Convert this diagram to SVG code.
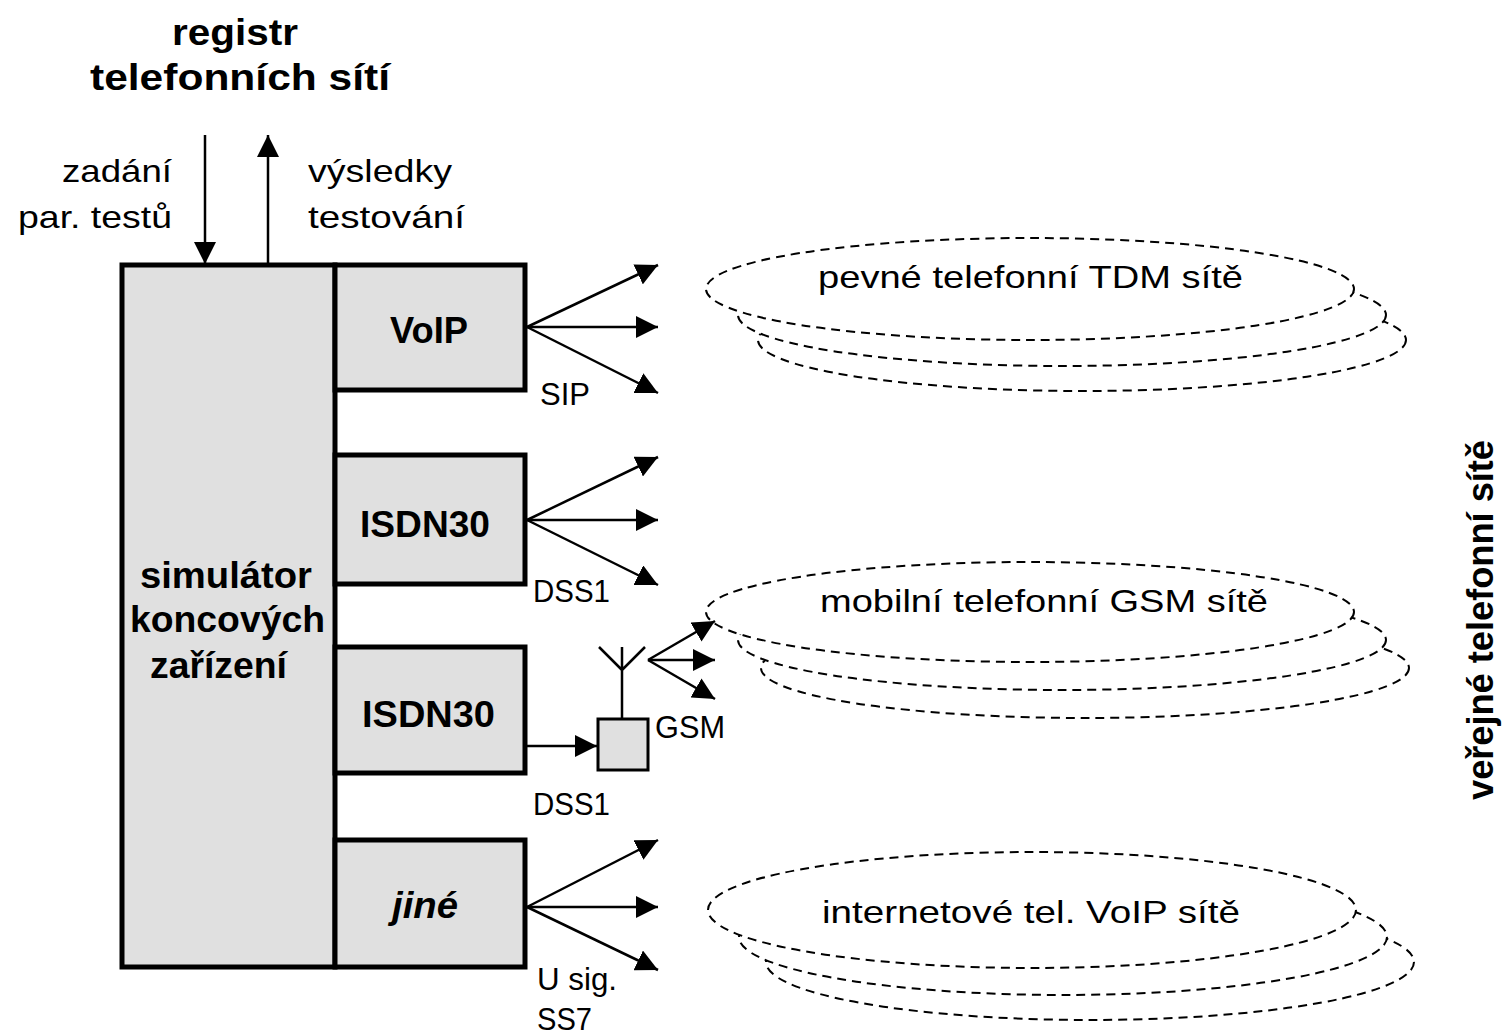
<svg xmlns="http://www.w3.org/2000/svg" width="1508" height="1036" viewBox="0 0 1508 1036">
<style>
.box{fill:#e0e0e0;stroke:#000;stroke-width:5}
.sbox{fill:#e0e0e0;stroke:#000;stroke-width:3}
.t{font-family:"Liberation Sans",Arial,sans-serif;font-size:32px;fill:#000}
.b{font-family:"Liberation Sans",Arial,sans-serif;font-size:37px;font-weight:bold;fill:#000}
.ln{stroke:#000;stroke-width:2.5;fill:none}
.ell{fill:#fff;stroke:#000;stroke-width:2;stroke-dasharray:9 6}
</style>
<defs>
<marker id="ah" markerUnits="userSpaceOnUse" markerWidth="24" markerHeight="22" refX="22" refY="11" orient="auto">
<path d="M0,0 L22,11 L0,22 z" fill="#000"/>
</marker>
</defs>
<rect width="1508" height="1036" fill="#fff"/>

<g id="registr">
<text class="b" x="172" y="45" textLength="126" lengthAdjust="spacingAndGlyphs">registr</text>
<text class="b" x="90" y="90" textLength="300" lengthAdjust="spacingAndGlyphs">telefonních sítí</text>
<text class="t" x="62" y="182" textLength="110" lengthAdjust="spacingAndGlyphs">zadání</text>
<text class="t" x="18" y="228" textLength="154" lengthAdjust="spacingAndGlyphs">par. testů</text>
<text class="t" x="308" y="182" textLength="144" lengthAdjust="spacingAndGlyphs">výsledky</text>
<text class="t" x="308" y="228" textLength="157" lengthAdjust="spacingAndGlyphs">testování</text>
</g>

<g id="networks">
<g id="tdm">
<ellipse class="ell" cx="1082" cy="340" rx="324" ry="51"/>
<ellipse class="ell" cx="1062" cy="315" rx="324" ry="51"/>
<ellipse class="ell" cx="1030" cy="289" rx="324" ry="51"/>
<text class="t" x="818" y="288" font-size="35" textLength="425" lengthAdjust="spacingAndGlyphs">pevné telefonní TDM sítě</text>
</g>
<g id="gsmnet">
<ellipse class="ell" cx="1085" cy="668" rx="324" ry="50"/>
<ellipse class="ell" cx="1062" cy="640" rx="324" ry="50"/>
<ellipse class="ell" cx="1030" cy="612" rx="324" ry="50"/>
<text class="t" x="820" y="612" font-size="35" textLength="448" lengthAdjust="spacingAndGlyphs">mobilní telefonní GSM sítě</text>
</g>
<g id="voipnet">
<ellipse class="ell" cx="1090" cy="962" rx="324" ry="58"/>
<ellipse class="ell" cx="1063" cy="937" rx="324" ry="58"/>
<ellipse class="ell" cx="1032" cy="910" rx="324" ry="58"/>
<text class="t" x="822" y="923" font-size="35" textLength="418" lengthAdjust="spacingAndGlyphs">internetové tel. VoIP sítě</text>
</g>
</g>

<g id="simulator">
<rect class="box" x="122" y="265" width="213" height="702"/>
<text class="b" x="140" y="588" font-size="35" textLength="172" lengthAdjust="spacingAndGlyphs">simulátor</text>
<text class="b" x="130" y="632" font-size="35" textLength="195" lengthAdjust="spacingAndGlyphs">koncových</text>
<text class="b" x="150" y="678" font-size="35" textLength="137" lengthAdjust="spacingAndGlyphs">zařízení</text>
</g>
<g id="voip">
<rect class="box" x="335" y="265" width="190" height="125"/>
<text class="b" x="390" y="343" textLength="78" lengthAdjust="spacingAndGlyphs">VoIP</text>
</g>
<g id="isdn1">
<rect class="box" x="335" y="455" width="190" height="129"/>
<text class="b" x="360" y="537" textLength="130" lengthAdjust="spacingAndGlyphs">ISDN30</text>
</g>
<g id="isdn2">
<rect class="box" x="335" y="647" width="190" height="126"/>
<text class="b" x="362" y="727" textLength="133" lengthAdjust="spacingAndGlyphs">ISDN30</text>
</g>
<g id="jine">
<rect class="box" x="335" y="840" width="190" height="127"/>
<text class="b" x="392" y="918" font-style="italic" textLength="66" lengthAdjust="spacingAndGlyphs">jiné</text>
</g>
<g id="gsm">
<rect class="sbox" x="598" y="719" width="50" height="51"/>
<path class="ln" d="M622,719 V647 M622,670 L599,647 M622,670 L645,647"/>
<text class="t" x="655" y="738" font-size="30" textLength="70" lengthAdjust="spacingAndGlyphs">GSM</text>
</g>

<g id="connectors">
<line class="ln" x1="205" y1="135" x2="205" y2="264" marker-end="url(#ah)"/>
<line class="ln" x1="268" y1="264" x2="268" y2="135" marker-end="url(#ah)"/>

<line class="ln" x1="527" y1="327" x2="658" y2="265" marker-end="url(#ah)"/>
<line class="ln" x1="527" y1="327" x2="658" y2="327" marker-end="url(#ah)"/>
<line class="ln" x1="527" y1="327" x2="658" y2="393" marker-end="url(#ah)"/>

<line class="ln" x1="527" y1="520" x2="658" y2="457" marker-end="url(#ah)"/>
<line class="ln" x1="527" y1="520" x2="658" y2="520" marker-end="url(#ah)"/>
<line class="ln" x1="527" y1="520" x2="658" y2="585" marker-end="url(#ah)"/>

<line class="ln" x1="527" y1="746" x2="597" y2="746" marker-end="url(#ah)"/>
<line class="ln" x1="648" y1="660" x2="715" y2="621" marker-end="url(#ah)"/>
<line class="ln" x1="648" y1="660" x2="715" y2="660" marker-end="url(#ah)"/>
<line class="ln" x1="648" y1="660" x2="715" y2="699" marker-end="url(#ah)"/>

<line class="ln" x1="527" y1="907" x2="658" y2="840" marker-end="url(#ah)"/>
<line class="ln" x1="527" y1="907" x2="658" y2="907" marker-end="url(#ah)"/>
<line class="ln" x1="527" y1="907" x2="658" y2="970" marker-end="url(#ah)"/>
</g>

<g id="labels">
<text class="t" x="540" y="405" textLength="50" lengthAdjust="spacingAndGlyphs">SIP</text>
<text class="t" x="533" y="602" textLength="77" lengthAdjust="spacingAndGlyphs">DSS1</text>
<text class="t" x="533" y="815" textLength="77" lengthAdjust="spacingAndGlyphs">DSS1</text>
<text class="t" x="537" y="990" textLength="80" lengthAdjust="spacingAndGlyphs">U sig.</text>
<text class="t" x="537" y="1030" textLength="55" lengthAdjust="spacingAndGlyphs">SS7</text>
</g>

<g id="side">
<text class="b" x="0" y="0" font-size="34" text-anchor="middle" transform="translate(1493,620) rotate(-90)" textLength="360" lengthAdjust="spacingAndGlyphs">veřejné telefonní sítě</text>
</g>
</svg>
